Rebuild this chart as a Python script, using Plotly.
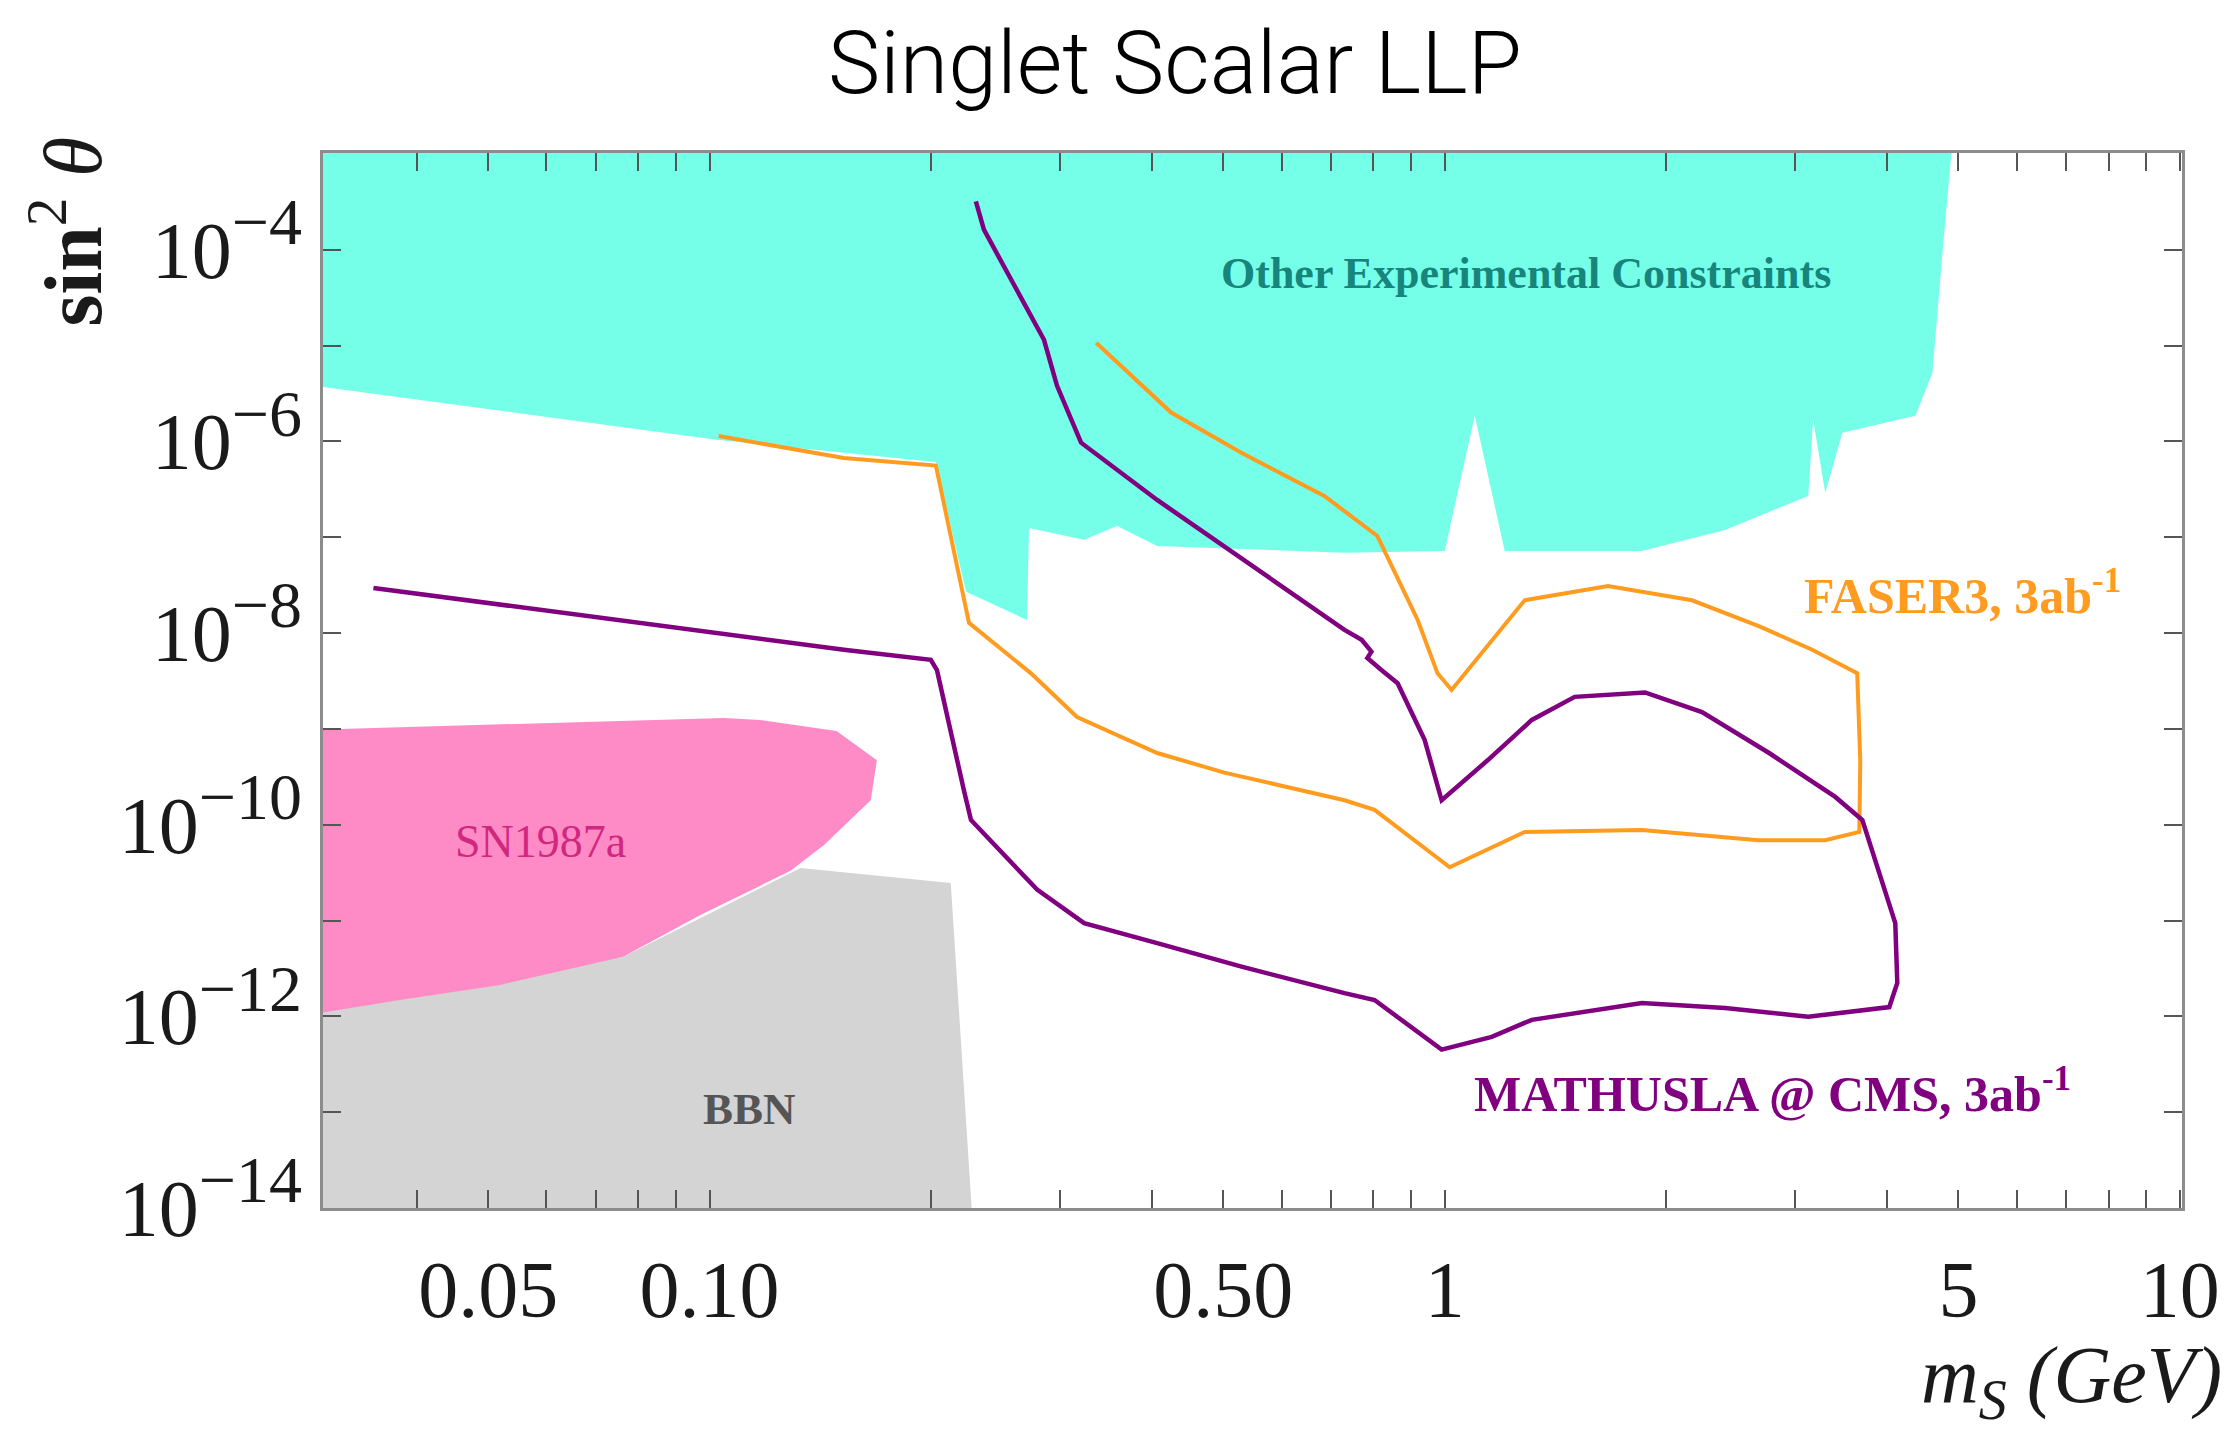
import numpy as np
import plotly.graph_objects as go

# ---------------- data (m_S in GeV, sin^2 theta) ----------------
other_x = [0.029, 0.029, 0.1022, 0.1523, 0.2032, 0.2233, 0.2703, 0.2720, 0.3233, 0.3585, 0.4064,
           0.7307, 1.0, 1.099, 1.207, 1.855, 2.407, 3.123, 3.172, 3.294, 3.475, 4.369, 4.608,
           4.755, 4.90]
other_y = [1.2e-3, 3.8e-6, 1.04e-6, 7.6e-7, 6.1e-7, 2.7e-8, 1.37e-8, 1.25e-7, 9.4e-8, 1.31e-7, 8.1e-8,
           6.9e-8, 7.2e-8, 1.85e-6, 7.2e-8, 7.2e-8, 1.19e-7, 2.7e-7, 1.68e-6, 2.9e-7, 1.23e-6, 1.85e-6,
           5.2e-6, 9.3e-5, 1.2e-3]

sn_x = [0.029, 0.1045, 0.1173, 0.1489, 0.1689, 0.1657, 0.1430, 0.1289, 0.0972, 0.0763, 0.0519, 0.0379, 0.029]
sn_y = [9.8e-10, 1.3e-9, 1.24e-9, 9.5e-10, 4.7e-10, 1.8e-10, 6.1e-11, 3.3e-11, 1.14e-11, 4.2e-12,
        2.13e-12, 1.48e-12, 1.06e-12]

bbn_x = [0.029, 0.029, 0.0763, 0.1330, 0.2129, 0.2275]
bbn_y = [9e-15, 1.06e-12, 4.2e-12, 3.54e-11, 2.47e-11, 9e-15]

faser_x = [0.1029, 0.1523, 0.2032, 0.2254, 0.2737, 0.3162, 0.4064, 0.5015, 0.7307, 0.8029, 1.016,
           1.285, 1.855, 2.670, 3.294, 3.665, 3.676, 3.641, 3.162, 2.670, 2.170, 1.668, 1.285,
           1.022, 0.978, 0.919, 0.810, 0.686, 0.529, 0.4246, 0.3357]
faser_y = [1.14e-6, 6.7e-7, 5.6e-7, 1.28e-8, 3.8e-9, 1.33e-9, 5.6e-10, 3.5e-10, 1.8e-10, 1.43e-10, 3.6e-11,
           8.4e-11, 8.8e-11, 6.9e-11, 6.9e-11, 8.4e-11, 4.7e-10, 3.8e-9, 6.7e-9, 1.19e-8, 2.2e-8, 3.1e-8, 2.2e-8,
           2.55e-9, 3.8e-9, 1.37e-8, 1.03e-7, 2.7e-7, 7.6e-7, 2.0e-6, 1.07e-5]

math_x = [0.0349, 0.1523, 0.2000, 0.2039, 0.2218, 0.2268, 0.2790, 0.3233, 0.4064, 0.5293, 0.7307, 0.8029,
          0.9906, 1.159, 1.314, 1.855, 2.407, 3.123, 4.026, 4.128, 4.102, 3.939, 3.700, 3.399, 2.763,
          2.239, 1.873, 1.503, 1.314, 1.144, 0.9906, 0.9392, 0.863, 0.821, 0.785, 0.795, 0.771, 0.7307,
          0.5015, 0.4064, 0.3202, 0.2970, 0.2851, 0.2571, 0.2362, 0.2303]
math_y = [2.96e-8, 6.7e-9, 5.25e-9, 4.1e-9, 2.3e-10, 1.12e-10, 2.1e-11, 9.4e-12, 5.8e-12, 3.3e-12, 1.75e-12,
          1.48e-12, 4.5e-13, 6.1e-13, 9.2e-13, 1.38e-12, 1.22e-12, 9.9e-13, 1.25e-12, 2.23e-12, 9.4e-12,
          2.47e-11, 1.12e-10, 1.95e-10, 5.6e-10, 1.5e-9, 2.4e-9, 2.16e-9, 1.24e-9, 4.7e-10, 1.8e-10, 7.7e-10,
          3.0e-9, 4.1e-9, 5.5e-9, 6.4e-9, 8.5e-9, 1.08e-8, 8.1e-8, 2.45e-7, 9.7e-7, 3.8e-6, 1.15e-5, 4.9e-5,
          1.62e-4, 3.2e-4]

x_major = [0.05, 0.1, 0.5, 1, 5, 10]
x_major_labels = ["0.05", "0.10", "0.50", "1", "5", "10"]
x_minor = [0.04, 0.06, 0.07, 0.08, 0.09, 0.2, 0.3, 0.4, 0.6, 0.7, 0.8, 0.9,
           2, 3, 4, 6, 7, 8, 9]
y_major_exp = [-4, -6, -8, -10, -12, -14]
y_minor_exp = [-5, -7, -9, -11, -13]

# ---------------- figure ----------------
fig = go.Figure()

def region(x, y, color):
    fig.add_trace(go.Scatter(x=x, y=y, mode="lines", fill="toself", fillcolor=color,
                             line=dict(width=0, color=color), hoverinfo="skip", showlegend=False))

region(bbn_x, bbn_y, "#D4D4D4")
region(sn_x, sn_y, "#FF8BC6")
region(other_x, other_y, "#75FFE8")

fig.add_trace(go.Scatter(x=faser_x, y=faser_y, mode="lines",
                         line=dict(color="#FF9B1E", width=4), showlegend=False))
fig.add_trace(go.Scatter(x=math_x, y=math_y, mode="lines",
                         line=dict(color="#800080", width=4.5), showlegend=False))

serif = "Liberation Serif"
tick_common = dict(ticks="inside", ticklen=18, tickwidth=2, tickcolor="#555555",
                   showline=True, linecolor="#8c8c8c", linewidth=3, mirror="allticks",
                   showgrid=False, zeroline=False,
                   tickfont=dict(family=serif, size=80, color="#1a1a1a"))
fig.update_xaxes(type="log", range=[np.log10(0.0298), np.log10(10.07)],
                 tickmode="array", tickvals=x_major, ticktext=x_major_labels,
                 ticklabelstandoff=10,
                 minor=dict(tickmode="array", tickvals=x_minor, ticks="inside", ticklen=18,
                            tickwidth=2, tickcolor="#555555", showgrid=False),
                 **tick_common)
fig.update_yaxes(type="log", range=[-14, -2.99],
                 tickmode="array", tickvals=[10.0 ** e for e in y_major_exp],
                 ticktext=["10<sup><span style='font-size:66px'>\u2212%d</span></sup>" % (-e)
                           for e in y_major_exp],
                 ticklabelstandoff=2,
                 minor=dict(tickmode="array", tickvals=[10.0 ** e for e in y_minor_exp], ticks="inside",
                            ticklen=18, tickwidth=2, tickcolor="#555555", showgrid=False),
                 **tick_common)

annos = [
    dict(text="<b>Other Experimental Constraints</b>", x=0.110, y=-4.25, color="#17857C", size=44),
    dict(text="SN1987a", x=-1.230, y=-10.17, color="#D0287F", size=46),
    dict(text="<b>BBN</b>", x=-0.9455, y=-12.97, color="#555555", size=45),
    dict(text="<b>FASER3, 3ab<sup>-1</sup></b>", x=0.704, y=-7.58, color="#FF9B1E", size=50),
    dict(text="<b>MATHUSLA @ CMS, 3ab<sup>-1</sup></b>", x=0.4455, y=-12.77, color="#800080", size=50),
]
for a in annos:
    fig.add_annotation(text=a["text"], x=a["x"], y=a["y"], xref="x", yref="y", showarrow=False,
                       xanchor="center", yanchor="middle",
                       font=dict(family=serif, size=a["size"], color=a["color"]))

fig.add_annotation(text="<b>sin</b><sup>2</sup> <i>\u03b8</i>", xref="paper", yref="paper",
                   x=-0.138, y=0.926, textangle=-90, showarrow=False,
                   xanchor="center", yanchor="middle",
                   font=dict(family=serif, size=82, color="#1a1a1a"))
fig.add_annotation(text="<i>m<sub>S</sub> (GeV)</i>", xref="paper", yref="paper",
                   x=1.022, y=-0.2125, showarrow=False, xanchor="right", yanchor="bottom",
                   borderpad=0,
                   font=dict(family=serif, size=80, color="#1a1a1a"))

# the page body adds an 8px offset, margins compensate for it
fig.update_layout(
    width=2238, height=1433,
    margin=dict(l=315, r=64, t=145, b=233),
    paper_bgcolor="white", plot_bgcolor="white",
    title=dict(text="Singlet Scalar LLP", x=0.5214, xref="container", xanchor="center",
               y=0.962, yref="container", yanchor="middle",
               font=dict(family="Roboto", size=88, color="black", weight=300)),
    showlegend=False,
)

fig.write_html("out.html")
